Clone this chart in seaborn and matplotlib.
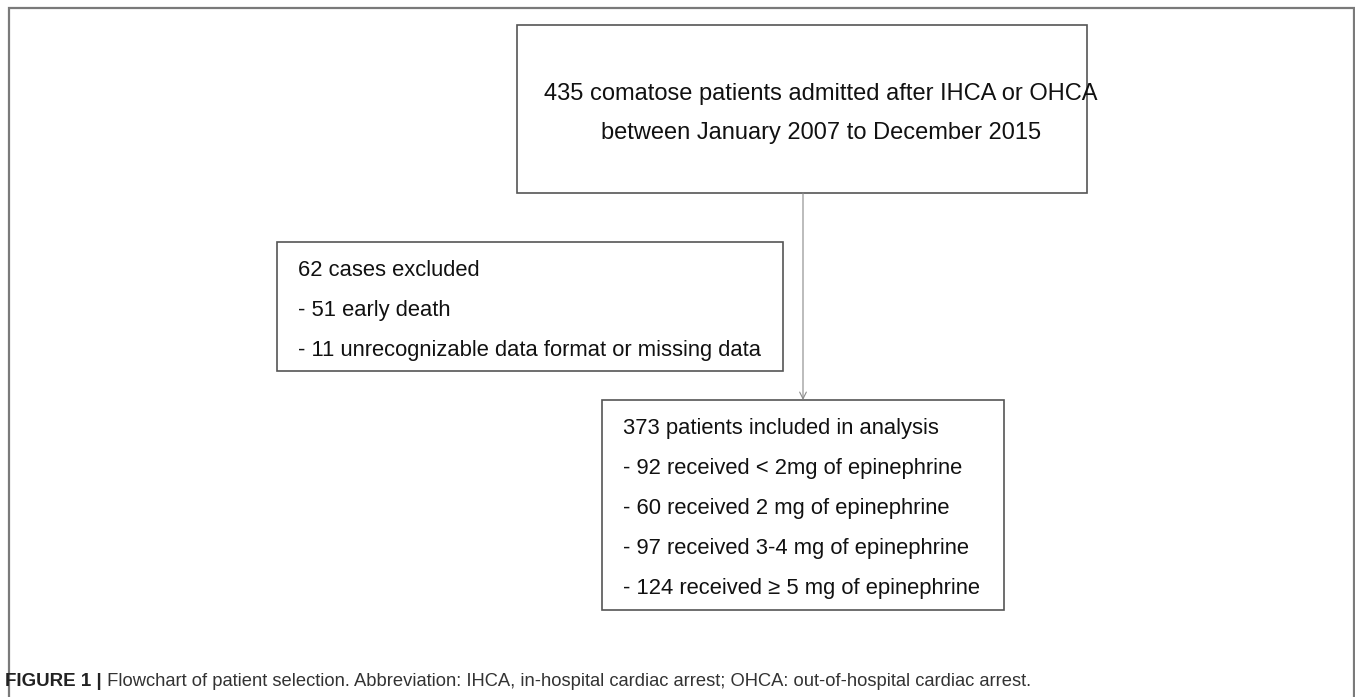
import matplotlib
matplotlib.use("Agg")
import matplotlib.pyplot as plt
import seaborn as sns
from matplotlib.patches import Rectangle

# ---- content ----
top_lines = ["435 comatose patients admitted after IHCA or OHCA",
             "between January 2007 to December 2015"]
excluded_lines = ["62 cases excluded",
                  "- 51 early death",
                  "- 11 unrecognizable data format or missing data"]
included_lines = ["373 patients included in analysis",
                  "- 92 received < 2mg of epinephrine",
                  "- 60 received 2 mg of epinephrine",
                  "- 97 received 3-4 mg of epinephrine",
                  "- 124 received \u2265 5 mg of epinephrine"]
caption_bold = "FIGURE 1 |"
caption_text = (" Flowchart of patient selection. Abbreviation: IHCA, in-hospital cardiac arrest; "
                "OHCA: out-of-hospital cardiac arrest.")

sns.set_theme(style="white")
plt.rcParams['font.family'] = ['Liberation Sans', 'DejaVu Sans']

W, H = 1355, 697
fig = plt.figure(figsize=(W / 100, H / 100), dpi=100)
ax = fig.add_axes([0, 0, 1, 1])
ax.set_xlim(0, W)
ax.set_ylim(H, 0)
ax.axis("off")

# outer frame (open at bottom)
ax.plot([9, 9, 1354, 1354], [H + 5, 8, 8, H + 5], color="#7a7a7a", lw=1.6,
        solid_joinstyle="miter", clip_on=False)

box_kw = dict(fill=False, edgecolor="#555555", lw=1.2)
# top box
ax.add_patch(Rectangle((517, 25), 570, 168, **box_kw))
# left (excluded) box
ax.add_patch(Rectangle((277, 242), 506, 129, **box_kw))
# bottom (included) box
ax.add_patch(Rectangle((602, 400), 402, 210, **box_kw))

# arrow
ax.annotate("", xy=(803, 400), xytext=(803, 193),
            arrowprops=dict(arrowstyle="->", color="#8a8a8a", lw=0.8,
                            mutation_scale=12, shrinkA=0, shrinkB=0))

tc = "#111111"
for i, t in enumerate(top_lines):
    ax.text(821, 100 + 39 * i, t, ha="center", va="baseline", fontsize=17, color=tc)
for i, t in enumerate(excluded_lines):
    ax.text(298, 276 + 40 * i, t, ha="left", va="baseline", fontsize=15.8, color=tc)
for i, t in enumerate(included_lines):
    ax.text(623, 434 + 40 * i, t, ha="left", va="baseline", fontsize=15.8, color=tc)

# caption
cb = ax.text(5, 686, caption_bold, ha="left", va="baseline", fontsize=13.5,
             fontweight="bold", color="#222222")
fig.canvas.draw()
bb = cb.get_window_extent()
x_px = bb.x1
ax.text(x_px, 686, caption_text, ha="left", va="baseline", fontsize=13.2,
        color="#333333")

fig.savefig("out.png", dpi=100, facecolor="white")
